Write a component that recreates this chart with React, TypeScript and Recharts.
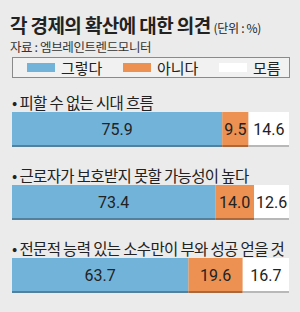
import { BarChart, Bar, XAxis, YAxis, LabelList } from 'recharts';

const categories = ['피할 수 없는 시대 흐름', '근로자가 보호받지 못할 가능성이 높다', '전문적 능력 있는 소수만이 부와 성공 얻을 것'];
const yesValues = [75.9, 73.4, 63.7];
const noValues = [9.5, 14.0, 19.6];
const dunnoValues = [14.6, 12.6, 16.7];

const seriesNames = ['그렇다', '아니다', '모름'];
const seriesColors = ['#72b3da', '#ec9152', '#ffffff'];
const seriesKeys = ['yes', 'no', 'dunno'];

const data = categories.map((name, i) => ({
  name,
  yes: yesValues[i],
  no: noValues[i],
  dunno: dunnoValues[i],
}));

const KR = '"Noto Sans CJK KR", "Noto Sans", sans-serif';

// bar with the dark strip along its bottom edge
const ShadowBar = (props: any) => {
  const { x, y, width, height, fill } = props;
  if (!width || width <= 0) return null;
  return (
    <g>
      <rect x={x} y={y} width={width} height={height} fill={fill} />
      <rect x={x} y={y + height - 2} width={width} height={2} fill="#000" fillOpacity={0.28} />
    </g>
  );
};

const CategoryLabel = (props: any) => {
  const { x, y, value } = props;
  return (
    <text x={x} y={y - 10} dominantBaseline="central" fontFamily={KR} fontSize={15.5} letterSpacing={-0.65} fill="#222">
      {'• ' + value}
    </text>
  );
};

const ValueLabel = (props: any) => {
  const { x, y, width, height, value } = props;
  return (
    <text x={x + width / 2} y={y + height / 2} textAnchor="middle" dominantBaseline="central" fontFamily="Roboto, sans-serif" fontSize={16} fill="#222">
      {Number(value).toFixed(1)}
    </text>
  );
};

export default function App() {
  return (
    <div style={{ position: 'absolute', left: 0, top: 0, width: 300, height: 312, background: '#ebebeb', overflow: 'hidden' }}>
      <div style={{ position: 'absolute', left: 10, top: 11, fontFamily: KR, whiteSpace: 'nowrap', color: '#222' }}>
        <span style={{ fontSize: 19, fontWeight: 700, letterSpacing: -0.6 }}>각 경제의 확산에 대한 의견</span>
        <span style={{ fontSize: 12, marginLeft: 3, letterSpacing: -0.3 }}>(단위 : %)</span>
      </div>
      <div style={{ position: 'absolute', left: 10, top: 37, fontFamily: KR, fontSize: 12.5, letterSpacing: -0.4, color: '#333', whiteSpace: 'nowrap' }}>
        자료 : 엠브레인트렌드모니터
      </div>
      <div style={{ position: 'absolute', left: 12, top: 57, width: 276, height: 19, border: '1px solid #8a8a8a', background: '#f1f1f1' }}>
        {seriesNames.map((n, i) => (
          <div key={n} style={{ position: 'absolute', left: 14 + i * 96, top: 0, height: 19, display: 'flex', alignItems: 'center', fontFamily: KR, fontSize: 15, color: '#222', whiteSpace: 'nowrap' }}>
            <span style={{ display: 'inline-block', width: 28, height: 9, background: seriesColors[i], marginRight: 6 }} />
            {n}
          </div>
        ))}
      </div>
      <div style={{ position: 'absolute', left: 0, top: 0 }}>
        <BarChart width={300} height={312} data={data} layout="vertical" margin={{ top: 93, right: 11, bottom: 0, left: 12 }}>
          <XAxis type="number" domain={[0, 100]} hide />
          <YAxis type="category" dataKey="name" hide />
          {seriesKeys.map((k, i) => (
            <Bar key={k} dataKey={k} name={seriesNames[i]} stackId="s" fill={seriesColors[i]} barSize={35} shape={ShadowBar} isAnimationActive={false}>
              {i === 0 && <LabelList dataKey="name" content={CategoryLabel} />}
              <LabelList dataKey={k} content={ValueLabel} />
            </Bar>
          ))}
        </BarChart>
      </div>
    </div>
  );
}
